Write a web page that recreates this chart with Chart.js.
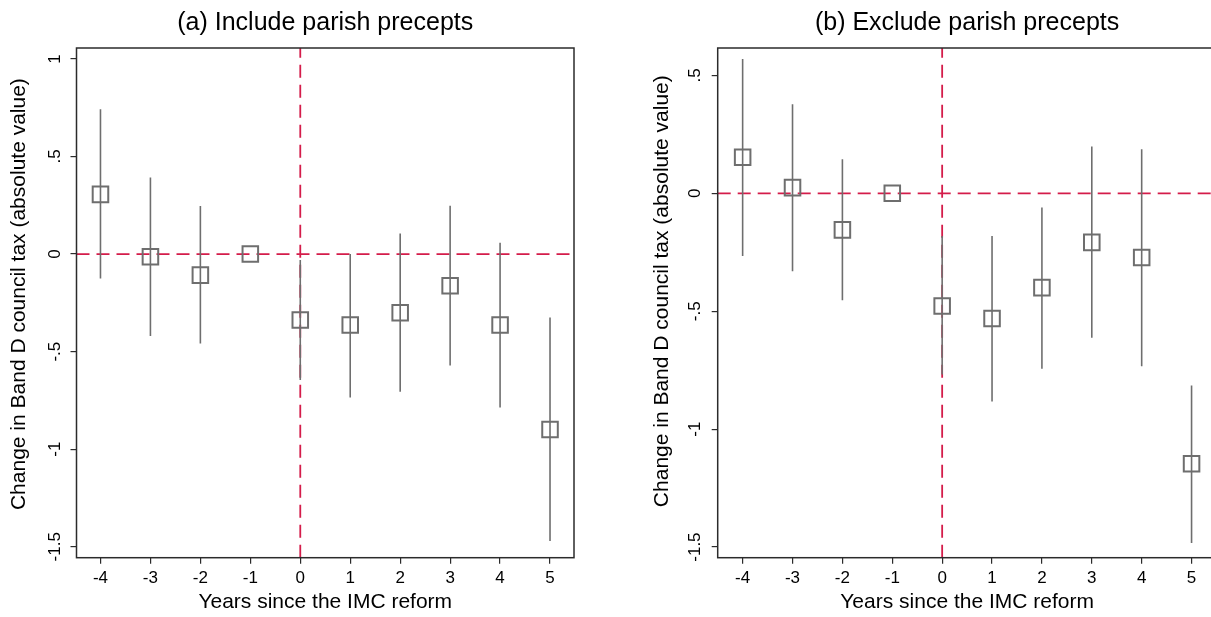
<!DOCTYPE html>
<html><head><meta charset="utf-8">
<script src="https://cdn.jsdelivr.net/npm/chart.js@4"></script>
<style>
html,body{margin:0;padding:0;background:#fff;overflow:hidden;width:1211px;height:617px;}
#wrap{position:relative;width:1211px;height:617px;overflow:hidden;background:#fff;}
#c1{position:absolute;left:0;top:0;}
#c2{position:absolute;left:600px;top:0;}
</style></head><body>
<div id="wrap">
<canvas id="c1" width="600" height="617"></canvas>
<canvas id="c2" width="640" height="617"></canvas>
</div>
<script>
// ---- data ----
const years = [-4, -3, -2, -1, 0, 1, 2, 3, 4, 5];
const xTickLabels = ['-4', '-3', '-2', '-1', '0', '1', '2', '3', '4', '5'];

// (a) Include parish precepts
const incEst = [0.306, -0.014, -0.108, 0, -0.338, -0.364, -0.301, -0.162, -0.364, -0.899];
const incLo  = [-0.125, -0.420, -0.458, null, -0.646, -0.735, -0.706, -0.571, -0.786, -1.470];
const incHi  = [0.742, 0.393, 0.246, null, -0.030, 0.000, 0.106, 0.248, 0.058, -0.325];
const incYTicks = [-1.5, -1, -0.5, 0, 0.5, 1];
const incYLabels = ['-1.5', '-1', '-.5', '0', '.5', '1'];
const incYRange = [-1.556, 1.056];
const incXRange = [-4.48, 5.48];

// (b) Exclude parish precepts
const excEst = [0.153, 0.024, -0.155, 0, -0.478, -0.531, -0.400, -0.208, -0.272, -1.147];
const excLo  = [-0.266, -0.331, -0.453, null, -0.768, -0.883, -0.744, -0.612, -0.733, -1.483];
const excHi  = [0.569, 0.378, 0.144, null, -0.181, -0.181, -0.060, 0.198, 0.187, -0.815];
const excYTicks = [-1.5, -1, -0.5, 0, 0.5];
const excYLabels = ['-1.5', '-1', '-.5', '0', '.5'];
const excYRange = [-1.545, 0.616];
const excXRange = [-4.5, 5.5];

const titleA = '(a) Include parish precepts';
const titleB = '(b) Exclude parish precepts';
const xTitle = 'Years since the IMC reform';
const yTitle = 'Change in Band D council tax (absolute value)';

// ---- styling ----
const FONT = "'Liberation Sans', Arial, Helvetica, sans-serif";
const GRAY = '#6e6e6e';
const RED = '#d41c4a';
const INK = '#2b2b2b';

const framePlugin = {
  id: 'frame',
  afterDatasetsDraw(chart) {
    const a = chart.chartArea, ctx = chart.ctx;
    ctx.save();
    ctx.strokeStyle = INK;
    ctx.lineWidth = 1.5;
    ctx.strokeRect(a.left, a.top, a.right - a.left, a.bottom - a.top);
    ctx.restore();
  }
};

function makeChart(id, cfg) {
  const ciData = [];
  years.forEach((x, i) => {
    if (cfg.lo[i] == null) return;
    ciData.push({x: x, y: cfg.lo[i]}, {x: x, y: cfg.hi[i]}, {x: x, y: null});
  });
  const ptData = years.map((x, i) => ({x: x, y: cfg.est[i]}));
  return new Chart(document.getElementById(id), {
    type: 'scatter',
    data: {
      datasets: [
        { data: [{x: cfg.xRange[0], y: 0}, {x: cfg.xRange[1], y: 0}], showLine: true,
          borderColor: RED, borderWidth: 1.8, borderDash: [13, 7], pointRadius: 0, order: 3 },
        { data: [{x: 0, y: cfg.yRange[0]}, {x: 0, y: cfg.yRange[1]}], showLine: true,
          borderColor: RED, borderWidth: 1.8, borderDash: [13, 7], pointRadius: 0, order: 3 },
        { data: ciData, showLine: true, spanGaps: false, borderColor: GRAY, borderWidth: 1.6,
          pointRadius: 0, order: 2 },
        { data: ptData, showLine: false, pointStyle: 'rect', pointRadius: 11,
          pointBorderColor: GRAY, pointBackgroundColor: 'rgba(0,0,0,0)', pointBorderWidth: 2, order: 1 }
      ]
    },
    options: {
      responsive: false,
      animation: false,
      events: [],
      layout: { padding: { left: 0, right: cfg.padRight, top: 0, bottom: 0 } },
      plugins: {
        legend: { display: false },
        tooltip: { enabled: false },
        title: {
          display: true, text: cfg.title, fullSize: false, color: '#000',
          font: { family: FONT, size: 25, weight: 'normal' },
          padding: { top: 8, bottom: 10 }
        }
      },
      scales: {
        x: {
          type: 'linear', min: cfg.xRange[0], max: cfg.xRange[1],
          afterBuildTicks: s => { s.ticks = years.map(v => ({value: v})); },
          afterFit: s => { s.height = 59.3; },
          ticks: { callback: (v) => xTickLabels[years.indexOf(v)], color: '#000',
                   font: { family: FONT, size: 17 }, padding: 4, maxRotation: 0, autoSkip: false },
          grid: { display: true, drawOnChartArea: false, drawTicks: true, tickLength: 6, color: INK, lineWidth: 1.2 },
          border: { display: false },
          title: { display: true, text: xTitle, color: '#000', font: { family: FONT, size: 21 },
                   padding: { top: 0, bottom: 2.4 } }
        },
        y: {
          type: 'linear', min: cfg.yRange[0], max: cfg.yRange[1],
          afterBuildTicks: s => { s.ticks = cfg.yTicks.map(v => ({value: v})); },
          afterFit: s => { s.width = cfg.yWidth; },
          ticks: { callback: (v) => cfg.yLabels[cfg.yTicks.indexOf(v)], color: '#000',
                   font: { family: FONT, size: 17 }, padding: cfg.yTickPad, minRotation: 90, maxRotation: 90,
                   crossAlign: 'center', autoSkip: false },
          grid: { display: true, drawOnChartArea: false, drawTicks: true, tickLength: 6, color: INK, lineWidth: 1.2 },
          border: { display: false },
          title: { display: true, text: cfg.yTitleLead + yTitle, color: '#000', font: { family: FONT, size: 21 },
                   padding: { top: cfg.yTitlePad, bottom: 0 } }
        }
      }
    },
    plugins: [framePlugin]
  });
}

makeChart('c1', { est: incEst, lo: incLo, hi: incHi, yTicks: incYTicks, yLabels: incYLabels,
  yRange: incYRange, xRange: incXRange, title: titleA, padRight: 26, yWidth: 76.5, yTickPad: 0.6,
  yTitlePad: 6.4, yTitleLead: '   ' });
makeChart('c2', { est: excEst, lo: excLo, hi: excHi, yTicks: excYTicks, yLabels: excYLabels,
  yRange: excYRange, xRange: excXRange, title: titleB, padRight: 23.5, yWidth: 117.7, yTickPad: 1.8,
  yTitlePad: 49.4, yTitleLead: '    ' });
</script>
</body></html>
